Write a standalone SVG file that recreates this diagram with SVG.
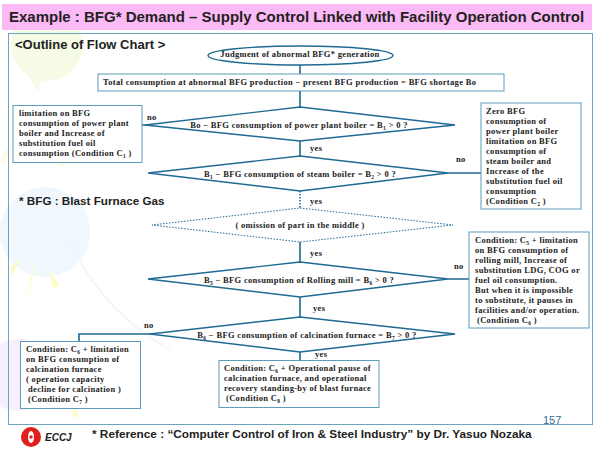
<svg xmlns="http://www.w3.org/2000/svg" width="600" height="450" viewBox="0 0 600 450">
<style>
.b{fill:#fff;stroke:#5d9cbc;stroke-width:1}
.d{fill:#fff;stroke:#1f6a92;stroke-width:1.4}
.c{fill:none;stroke:#1f6a92;stroke-width:1.6}
text{font-family:"Liberation Serif",serif;font-weight:bold;font-size:8.5px;letter-spacing:.32px;fill:#222}
.s{font-family:"Liberation Sans",Arial,sans-serif;letter-spacing:0}
.m{text-anchor:middle}
.sub{font-size:5.5px}
</style>
<rect width="600" height="450" fill="#fff"/>
<g id="background">
<circle cx="47" cy="45" r="36" fill="#f5fbe4"/>
<path d="M28 76 L38 92 L42 76Z" fill="#f5fbe4"/>
<path d="M0 160 L12 140 L6 165Z M60 150 L65 170 L55 160Z" fill="#fdfde6"/>
<circle cx="45" cy="232" r="45" fill="#f1f8fd"/>
<path d="M10 268 L20 258 L12 276Z M30 280 L36 258 L28 300Z M50 270 L60 287 L52 287Z" fill="#fdfbc8"/>
<circle cx="18" cy="375" r="36" fill="#f7effb"/>
<path d="M70 240 Q100 310 170 350" fill="none" stroke="#f0f6fb" stroke-width="2"/>
<path d="M72 415 L80 418 L75 408Z" fill="#fdfbc8"/>
</g>
<rect id="band" x="2" y="4" width="590" height="26" fill="#fbb9f5"/>
<rect id="frame" x="8.500" y="33.500" width="584" height="391" fill="none" stroke="#6fa3bd" stroke-width="1"/>
<text class="s" x="9" y="22" style="font-size:15px">Example : BFG* Demand – Supply Control Linked with Facility Operation Control</text>
<text class="s" x="15" y="49" style="font-size:13px">&lt;Outline of Flow Chart &gt;</text>
<text class="s" x="19" y="205" style="font-size:11.700px">* BFG : Blast Furnace Gas</text>
<g id="connectors">
<path class="c" d="M300 65V74M300 91V107M300 141V156M300 262V242M300 297V317M300 352V360"/>
<path d="M300 191V208" fill="none" stroke="#1f6a92" stroke-width="1.600" stroke-dasharray="1.500 1.500"/>
<path class="c" d="M142 125H160M448 173H481M448 279H469M155 334H79V342"/>
</g>
<g id="n1"><ellipse class="d" cx="300.500" cy="55.500" rx="92.500" ry="9.500"/><text class="m" x="300" y="57">Judgment of abnormal BFG* generation</text></g>
<g id="n2"><rect class="b" x="98" y="74" width="406" height="17"/><text x="103" y="85">Total consumption  at  abnormal BFG production  − present BFG production = BFG shortage Bo</text></g>
<g id="n3"><path class="d" d="M300 107L455 125L300 141L145 125Z"/><text class="m" x="299" y="128">Bo − BFG consumption of power plant boiler = B<tspan class="sub" dy="1.500">1</tspan><tspan dy="-1.500"> &gt; 0 ?</tspan></text></g>
<g id="n4"><path class="d" d="M300 156L448 173L300 191L148 173Z"/><text class="m" x="300" y="177">B<tspan class="sub" dy="1.500">1</tspan><tspan dy="-1.500"> − BFG consumption  of steam  boiler = B</tspan><tspan class="sub" dy="1.500">2</tspan><tspan dy="-1.500"> &gt; 0 ?</tspan></text></g>
<g id="n5"><path d="M300 208L453 225L300 242L152 225Z" fill="#fff" stroke="#1f6a92" stroke-width="1" stroke-dasharray="1.500 1.500"/><text class="m" x="300" y="228">( omission of part in the middle )</text></g>
<g id="n6"><path class="d" d="M300 262L448 279L300 297L148 279Z"/><text class="m" x="299" y="283">B<tspan class="sub" dy="1.500">5</tspan><tspan dy="-1.500"> − BFG consumption  of Rolling mill = B</tspan><tspan class="sub" dy="1.500">6</tspan><tspan dy="-1.500"> &gt; 0 ?</tspan></text></g>
<g id="n7"><path class="d" d="M300 317L455 334L300 352L150 334Z"/><text class="m" x="307" y="338">B<tspan class="sub" dy="1.500">6</tspan><tspan dy="-1.500"> − BFG consumption  of calcination furnace = B</tspan><tspan class="sub" dy="1.500">7</tspan><tspan dy="-1.500"> &gt; 0 ?</tspan></text></g>
<g id="n8"><rect class="b" x="13" y="105.500" width="129" height="57"/>
<text x="19" y="116">limitation on BFG</text><text x="19" y="126">consumption of  power plant</text><text x="19" y="136">boiler and Increase of</text><text x="19" y="146">substitution fuel oil</text><text x="19" y="156">consumption (Condition  C<tspan class="sub" dy="1.500">1</tspan><tspan dy="-1.500"> )</tspan></text></g>
<g id="n9"><rect class="b" x="481" y="103" width="100" height="106"/>
<text x="486" y="114">Zero BFG</text><text x="486" y="124">consumption of</text><text x="486" y="134">power plant boiler</text><text x="486" y="144">limitation on BFG</text><text x="486" y="154">consumption of</text><text x="486" y="164">steam boiler and</text><text x="486" y="174">Increase of the</text><text x="486" y="184">substitution fuel oil</text><text x="486" y="194">consumption</text><text x="486" y="204">(Condition C<tspan class="sub" dy="1.500">2</tspan><tspan dy="-1.500"> )</tspan></text></g>
<g id="n10"><rect class="b" x="469" y="232" width="120" height="96"/>
<text x="475" y="243">Condition: C<tspan class="sub" dy="1.500">5</tspan><tspan dy="-1.500"> + limitation</tspan></text><text x="475" y="253">on BFG consumption of</text><text x="475" y="263">rolling mill, Increase of</text><text x="475" y="273">substitution LDG, COG or</text><text x="475" y="283">fuel oil  consumption.</text><text x="475" y="293">But when it is impossible</text><text x="475" y="303">to substitute, it pauses in</text><text x="475" y="313">facilities and/or operation.</text><text x="477" y="323">(Condition C<tspan class="sub" dy="1.500">6</tspan><tspan dy="-1.500"> )</tspan></text></g>
<g id="n11"><rect class="b" x="20.500" y="341.500" width="120" height="67"/>
<text x="26" y="352">Condition: C<tspan class="sub" dy="1.500">6</tspan><tspan dy="-1.500"> + limitation</tspan></text><text x="26" y="362">on BFG consumption of</text><text x="26" y="372">calcination furnace</text><text x="26" y="382">( operation capacity</text><text x="28" y="392">decline for calcination )</text><text x="28" y="402">(Condition C<tspan class="sub" dy="1.500">7</tspan><tspan dy="-1.500"> )</tspan></text></g>
<g id="n12"><rect class="b" x="219" y="360.500" width="160" height="47"/>
<text x="224" y="371">Condition: C<tspan class="sub" dy="1.500">6</tspan><tspan dy="-1.500"> + Operational pause of</tspan></text><text x="224" y="381">calcination furnace, and operational</text><text x="224" y="391">recovery standing-by of blast furnace</text><text x="226" y="401">(Condition C<tspan class="sub" dy="1.500">8</tspan><tspan dy="-1.500"> )</tspan></text></g>
<g id="labels">
<text x="147" y="120">no</text><text x="310" y="151">yes</text><text x="456" y="162">no</text><text x="310" y="204">yes</text><text x="310" y="256">yes</text><text x="454" y="269">no</text><text x="313" y="311">yes</text><text x="144" y="328">no</text><text x="315" y="357">yes</text>
</g>
<text x="543" y="424" style="font-family:'Liberation Sans',sans-serif;font-weight:normal;font-size:11px;letter-spacing:0;fill:#2f6f8f">157</text>
<g id="logo"><circle cx="31" cy="437" r="10" fill="#e0201c"/><ellipse cx="31" cy="437" rx="3" ry="6" fill="#fff"/><circle cx="31" cy="437" r="1.800" fill="#e0201c"/><text class="s" x="45" y="441" style="font-size:10px;font-style:italic">ECCJ</text></g>
<text class="s" x="92" y="438" style="font-size:11.800px">* Reference : “Computer Control of Iron &amp; Steel Industry” by Dr. Yasuo Nozaka</text>
</svg>
